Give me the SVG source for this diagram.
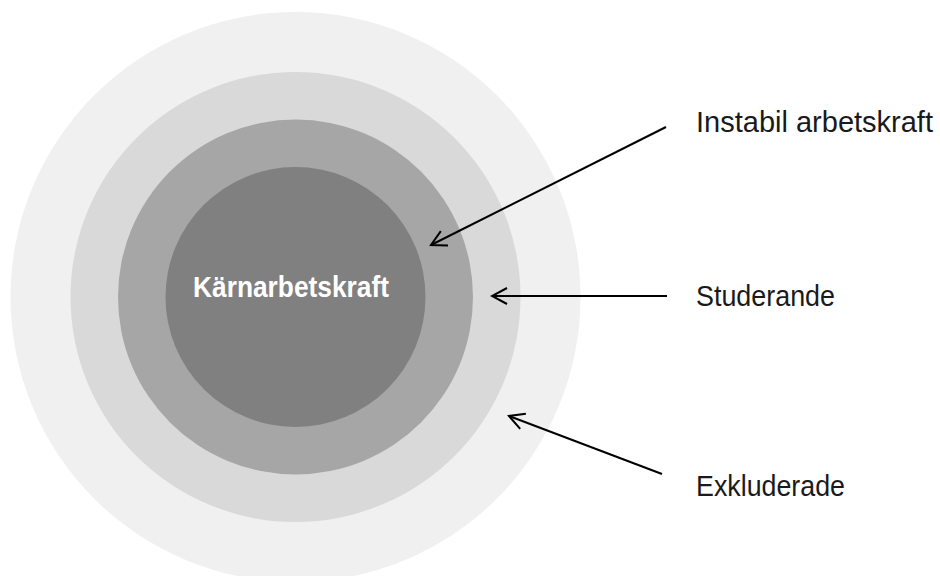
<svg xmlns="http://www.w3.org/2000/svg" width="940" height="576" viewBox="0 0 940 576">
<defs>
<style>
.lbl{font-family:"Liberation Sans",Arial,sans-serif;font-size:29px;fill:#1a1a1a}
.core{font-family:"Liberation Sans",Arial,sans-serif;font-size:29px;font-weight:bold;fill:#ffffff}
.conn line{stroke:#000;stroke-width:2;fill:none}
</style>
<marker id="ah" viewBox="0 0 20 20" refX="18" refY="10" markerWidth="20" markerHeight="20" markerUnits="userSpaceOnUse" orient="auto">
<path d="M3,2 L18,10 L3,18" fill="none" stroke="#000" stroke-width="2"/>
</marker>
</defs>
<rect width="940" height="576" fill="#ffffff"/>
<g id="ring-excluded"><circle cx="295.5" cy="297" r="285" fill="#f0f0f0"/></g>
<g id="ring-students"><circle cx="295.5" cy="297" r="225" fill="#d9d9d9"/></g>
<g id="ring-unstable"><circle cx="295.5" cy="297" r="177.5" fill="#a6a6a6"/></g>
<g id="core"><circle cx="295.5" cy="297" r="130" fill="#808080"/>
<text class="core" x="193" y="297" textLength="196" lengthAdjust="spacingAndGlyphs">Kärnarbetskraft</text></g>
<g id="label-instabil"><text class="lbl" x="696" y="132" textLength="237" lengthAdjust="spacingAndGlyphs">Instabil arbetskraft</text></g>
<g id="label-studerande"><text class="lbl" x="696" y="306" textLength="139" lengthAdjust="spacingAndGlyphs">Studerande</text></g>
<g id="label-exkluderade"><text class="lbl" x="696" y="496" textLength="149" lengthAdjust="spacingAndGlyphs">Exkluderade</text></g>
<g id="connectors" class="conn">
<line x1="666" y1="127" x2="431" y2="245" marker-end="url(#ah)"/>
<line x1="667" y1="296" x2="492" y2="296" marker-end="url(#ah)"/>
<line x1="662" y1="474" x2="509" y2="416" marker-end="url(#ah)"/>
</g>
</svg>
